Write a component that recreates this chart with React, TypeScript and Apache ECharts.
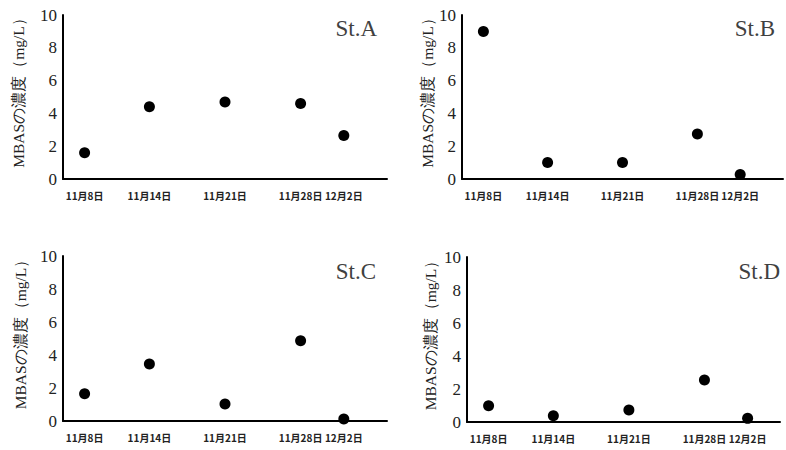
import React, { useEffect, useRef } from "react";
import * as echarts from "echarts";

// Sampling dates (label) and their day number counted from 1 Nov
const dateLabels = ["11月8日", "11月14日", "11月21日", "11月28日", "12月2日"];
const dayNumbers = [8, 14, 21, 28, 32];

const stations = ["St.A", "St.B", "St.C", "St.D"];
const valuesA = [1.6, 4.4, 4.7, 4.6, 2.65];
const valuesB = [9.0, 1.0, 1.0, 2.75, 0.27];
const valuesC = [1.65, 3.45, 1.03, 4.87, 0.12];
const valuesD = [0.99, 0.38, 0.73, 2.55, 0.22];
const allValues = [valuesA, valuesB, valuesC, valuesD];

const yTicks = [0, 2, 4, 6, 8, 10];
const yAxisName = "MBASの濃度（mg/L）";

// layout per panel
const panels = [
  { left: 63, top: 15, width: 324, height: 164, xMax: 36, nameGap: 37, titleRight: 409, titleTop: 17 },
  { left: 462, top: 15, width: 324, height: 164, xMax: 36, nameGap: 26, titleRight: 11, titleTop: 17 },
  { left: 63, top: 256, width: 324, height: 165, xMax: 36, nameGap: 35, titleRight: 410, titleTop: 260 },
  { left: 467, top: 257, width: 313, height: 165, xMax: 35, nameGap: 29, titleRight: 6, titleTop: 260 },
];

const serif = "Liberation Serif";
const gothic = "Noto Sans CJK JP";

export default function App() {
  const ref = useRef<HTMLDivElement>(null);
  useEffect(() => {
    if (!ref.current) return;
    const chart = echarts.init(ref.current, undefined, { renderer: "svg" });
    const option: any = {
      animation: false,
      backgroundColor: "#ffffff",
      textStyle: { fontFamily: serif },
      title: panels.map((p, i) => ({
        text: stations[i],
        right: p.titleRight,
        top: p.titleTop,
        padding: 0,
        textStyle: { fontFamily: serif, fontSize: 23, fontWeight: "normal", color: "#404040" },
      })),
      grid: panels.map((p) => ({ left: p.left, top: p.top, width: p.width, height: p.height, containLabel: false })),
      xAxis: panels.map((p, i) => ({
        type: "value",
        gridIndex: i,
        min: 6,
        max: p.xMax,
        interval: 1,
        axisLine: { show: true, onZero: false, lineStyle: { color: "#000", width: 2 } },
        axisTick: { show: false },
        splitLine: { show: false },
        axisLabel: {
          margin: 11,
          fontFamily: gothic,
          fontSize: 10,
          fontWeight: "bold",
          color: "#222",
          showMinLabel: true,
          showMaxLabel: true,
          formatter: (v: number) => {
            const k = dayNumbers.indexOf(Math.round(v));
            return k >= 0 ? dateLabels[k] : "";
          },
        },
      })),
      yAxis: panels.map((p, i) => ({
        type: "value",
        gridIndex: i,
        min: yTicks[0],
        max: yTicks[yTicks.length - 1],
        interval: yTicks[1] - yTicks[0],
        name: yAxisName,
        nameLocation: "middle",
        nameRotate: 90,
        nameGap: p.nameGap,
        nameTextStyle: {
          fontFamily: serif,
          fontSize: 15.5,
          color: "#222",
          padding: [0, 0, 0, 16],
        },
        axisLine: { show: true, lineStyle: { color: "#000", width: 2 } },
        axisTick: { show: false },
        splitLine: { show: false },
        axisLabel: {
          margin: 6,
          fontFamily: serif,
          fontSize: 17,
          color: "#222",
        },
      })),
      series: allValues.map((vals, i) => ({
        type: "scatter",
        xAxisIndex: i,
        yAxisIndex: i,
        symbol: "circle",
        symbolSize: 11,
        itemStyle: { color: "#000", opacity: 1 },
        data: vals.map((v, k) => [dayNumbers[k], v]),
      })),
    };
    chart.setOption(option);
    return () => chart.dispose();
  }, []);
  return (
    <div
      ref={ref}
      style={{ position: "fixed", left: 0, top: 0, width: 786, height: 450, background: "#fff" }}
    />
  );
}
